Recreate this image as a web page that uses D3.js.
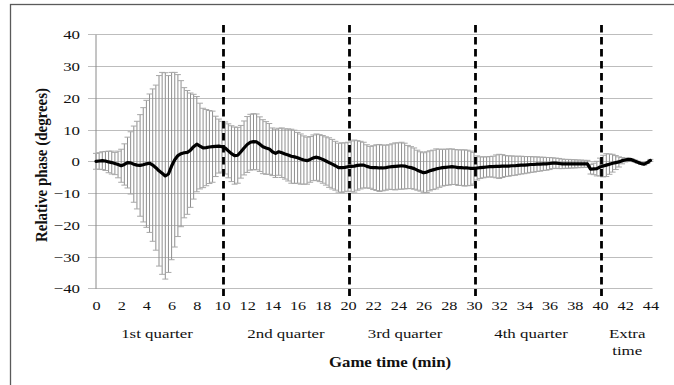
<!DOCTYPE html>
<html>
<head>
<meta charset="utf-8">
<script src="https://cdn.jsdelivr.net/npm/d3@7"></script>
<style>
  body { margin: 0; background: #fff; }
  svg { display: block; }
</style>
</head>
<body>
<div id="chart"></div>
<script>
// relative phase, mean and SD, one value every 15 s of game time
const stepMin = 0.25;
const meanPhase = [
  0.0, 0.1, 0.2, 0.1, -0.2, -0.4, -0.7, -1.0, -1.4, -1.0, -0.4, -0.5, -0.9, -1.2, -1.3, -1.1,
  -0.8, -0.6, -1.2, -2.0, -3.0, -3.8, -4.6, -4.0, -1.5, 0.5, 1.8, 2.4, 2.7, 2.8, 3.5, 4.6,
  5.4, 4.8, 4.2, 4.3, 4.5, 4.6, 4.7, 4.8, 4.6,
  4.2, 3.3, 2.4, 1.8, 1.9, 3.0, 4.2, 5.3, 6.0, 6.2, 6.1, 5.4, 4.6, 4.2, 3.9, 3.0,
  2.5, 3.0, 2.7, 2.3, 2.0, 1.6, 1.4, 1.1, 0.7, 0.4, 0.2, 0.6, 1.1, 1.3, 1.0, 0.6,
  0.1, -0.4, -0.9, -1.4, -2.0, -2.0, -1.9, -1.7,
  -1.6, -1.5, -1.3, -1.2, -1.2, -1.6, -1.9, -2.0, -2.0, -2.1, -2.1, -2.0, -1.8, -1.7, -1.6, -1.5,
  -1.4, -1.5, -1.8, -2.0, -2.3, -2.8, -3.2, -3.6, -3.4, -3.0, -2.7, -2.4, -2.2, -2.0, -1.9, -1.8,
  -1.7, -1.8, -2.0, -2.0, -2.1, -2.1, -2.2, -2.2,
  -2.1, -2.0, -1.9, -1.8, -1.7, -1.7, -1.6, -1.6, -1.5, -1.5, -1.5, -1.4, -1.4, -1.3, -1.2, -1.2,
  -1.1, -1.0, -1.0, -0.9, -0.9, -0.8, -0.8, -0.7, -0.6, -0.6, -0.7, -0.8, -0.8, -0.8, -0.8, -0.8,
  -0.8, -0.8, -0.8, -0.8, -2.5, -2.4, -2.3, -1.8,
  -1.5, -1.2, -0.9, -0.6, -0.4, -0.2, 0.2, 0.4, 0.6, 0.5, 0.1, -0.3, -0.7, -0.9, -0.4, 0.3
];
const sdPhase = [
  2.5, 2.6, 2.8, 3.0, 3.4, 3.6, 3.5, 4.2, 5.2, 6.5, 8.0, 9.8, 12.0, 13.8, 16.0, 18.0,
  20.0, 21.8, 24.0, 26.0, 30.0, 31.8, 32.5, 31.0, 29.5, 27.5, 25.5, 23.0, 20.5, 19.5, 18.0, 16.5,
  15.0, 13.5, 12.5, 12.0, 11.5, 11.2, 9.5, 8.5, 8.0,
  8.2, 8.5, 8.8, 9.0, 8.8, 8.3, 8.5, 8.8, 8.8, 8.8, 8.8, 8.6, 8.5, 8.3, 8.0, 7.5,
  7.6, 7.4, 7.8, 7.9, 8.2, 8.5, 8.4, 8.0, 7.9, 7.6, 7.4, 7.2, 7.2, 7.3, 7.4, 7.5,
  7.6, 7.8, 7.8, 7.7, 7.7, 7.8, 7.7, 7.7,
  8.0, 8.2, 7.8, 7.5, 7.2, 6.8, 6.6, 6.9, 7.2, 7.4, 7.2, 7.1, 7.0, 7.2, 7.4, 7.3,
  7.4, 7.2, 6.8, 6.6, 6.5, 6.3, 6.2, 6.3, 6.4, 6.3, 6.2, 6.3, 6.0, 5.8, 5.7, 5.7,
  5.6, 5.5, 5.6, 5.6, 5.7, 5.6, 5.4, 5.0,
  3.8, 3.4, 3.3, 3.2, 3.2, 3.3, 3.6, 3.8, 3.6, 3.3, 3.2, 3.1, 3.0, 2.9, 2.8, 2.7,
  2.6, 2.5, 2.4, 2.3, 2.2, 2.1, 2.0, 1.9, 1.7, 1.6, 1.6, 1.5, 1.4, 1.4, 1.3, 1.3,
  1.2, 1.2, 1.1, 1.1, 1.5, 1.8, 2.3, 2.8,
  3.4, 3.6, 3.2, 2.8, 2.2, 1.6, 1.0, 0.6, 0.4, 0.3, 0.3, 0.3, 0.3, 0.3, 0.3, 0.3
];

const xTicks = [0, 2, 4, 6, 8, 10, 12, 14, 16, 18, 20, 22, 24, 26, 28, 30, 32, 34, 36, 38, 40, 42, 44];
const yTicks = [40, 30, 20, 10, 0, -10, -20, -30, -40];
const quarterBreaks = [10, 20, 30, 40];
const periodNames = [['1st quarter'], ['2nd quarter'], ['3rd quarter'], ['4th quarter'], ['Extra', 'time']];
const periodBounds = [0, 10, 20, 30, 40, 44];

const width = 674;
const height = 385;
const serif = '"Liberation Serif", "Times New Roman", serif';
const stretch = 1.3; // the original picture is squeezed vertically

const points = meanPhase.map((m, i) => ({ t: i * stepMin, m: m, sd: sdPhase[i] }));

const svg = d3.select('#chart')
  .append('svg')
  .attr('width', width)
  .attr('height', height)
  .style('font-family', serif);

const x = d3.scaleLinear().domain([0, 44]).range([96, 650.4]);
const y = d3.scaleLinear().domain([-40, 40]).range([288.3, 34.3]);

// outer frame
svg.append('rect')
  .attr('x', 10.5)
  .attr('y', 4.5)
  .attr('width', 700)
  .attr('height', 400)
  .attr('fill', 'none')
  .attr('stroke', '#5a5a5a')
  .attr('stroke-width', 1.3);

// gridlines
svg.append('g')
  .selectAll('line')
  .data(yTicks)
  .enter()
  .append('line')
  .attr('x1', 88)
  .attr('x2', 652.5)
  .attr('y1', (d) => Math.round(y(d)) + 0.5)
  .attr('y2', (d) => Math.round(y(d)) + 0.5)
  .attr('stroke', '#bdbdbd')
  .attr('stroke-width', 1);

// y axis
const yAxisG = svg.append('g')
  .attr('transform', 'translate(95.5,0)')
  .call(d3.axisLeft(y).tickValues(yTicks).tickSize(0).tickSizeOuter(0).tickFormat(d3.format('d')));
yAxisG.attr('font-family', null);
yAxisG.select('.domain').attr('stroke', '#8a8a8a');
yAxisG.selectAll('text')
  .attr('font-size', 13)
  .attr('fill', '#111')
  .attr('x', -15.5 / stretch)
  .attr('dy', '0.36em')
  .attr('transform', `scale(${stretch},1)`);

// x axis (labels only, the -40 gridline is the baseline)
const xAxisG = svg.append('g')
  .attr('transform', 'translate(0,288.3)')
  .call(d3.axisBottom(x).tickValues(xTicks).tickSize(0).tickPadding(12.5));
xAxisG.attr('font-family', null);
xAxisG.select('.domain').remove();
xAxisG.selectAll('text')
  .attr('font-size', 13)
  .attr('fill', '#111')
  .attr('transform', `scale(${stretch * 0.96},1)`);

// error bars
const bars = svg.append('g')
  .attr('stroke', '#8e8e8e')
  .attr('stroke-width', 1);

bars.selectAll('line.bar')
  .data(points)
  .enter()
  .append('line')
  .attr('class', 'bar')
  .attr('x1', (d) => x(d.t))
  .attr('x2', (d) => x(d.t))
  .attr('y1', (d) => y(d.m + d.sd))
  .attr('y2', (d) => y(d.m - d.sd));

['top', 'bottom'].forEach((end) => {
  bars.selectAll('line.cap-' + end)
    .data(points)
    .enter()
    .append('line')
    .attr('class', 'cap-' + end)
    .attr('x1', (d) => x(d.t) - 3)
    .attr('x2', (d) => x(d.t) + 3)
    .attr('y1', (d) => y(end === 'top' ? d.m + d.sd : d.m - d.sd))
    .attr('y2', (d) => y(end === 'top' ? d.m + d.sd : d.m - d.sd))
    .attr('stroke', '#a8a8a8');
});

// mean line
svg.append('path')
  .datum(points)
  .attr('fill', 'none')
  .attr('stroke', '#000')
  .attr('stroke-width', 3.2)
  .attr('stroke-linejoin', 'round')
  .attr('stroke-linecap', 'round')
  .attr('d', d3.line().x((d) => x(d.t)).y((d) => y(d.m)));

// quarter separators
svg.append('g')
  .selectAll('line')
  .data(quarterBreaks)
  .enter()
  .append('line')
  .attr('x1', (d) => x(d) + 1.5)
  .attr('x2', (d) => x(d) + 1.5)
  .attr('y1', 25)
  .attr('y2', 296)
  .attr('stroke', '#000')
  .attr('stroke-width', 2.8)
  .attr('stroke-dasharray', '7.5,4.5');

// period labels under the axis
const nudge = [-2, 1, -6, -6, 2];
periodNames.forEach((lines, i) => {
  const cx = x((periodBounds[i] + periodBounds[i + 1]) / 2) + nudge[i];
  lines.forEach((str, k) => {
    svg.append('text')
      .text(str)
      .attr('transform', `translate(${cx},${338 + k * 16.5}) scale(${stretch},1)`)
      .attr('text-anchor', 'middle')
      .attr('font-size', 13)
      .attr('fill', '#111');
  });
});

// axis titles
svg.append('text')
  .text('Game time (min)')
  .attr('transform', `translate(390,366.5) scale(1.2,1)`)
  .attr('text-anchor', 'middle')
  .attr('font-weight', 'bold')
  .attr('font-size', 14)
  .attr('fill', '#111');

svg.append('text')
  .text('Relative phase (degrees)')
  .attr('transform', `translate(46.5,165) scale(1.15,1) rotate(-90)`)
  .attr('text-anchor', 'middle')
  .attr('font-weight', 'bold')
  .attr('font-size', 14.5)
  .attr('textLength', 154)
  .attr('lengthAdjust', 'spacingAndGlyphs')
  .attr('fill', '#111');
</script>
</body>
</html>
